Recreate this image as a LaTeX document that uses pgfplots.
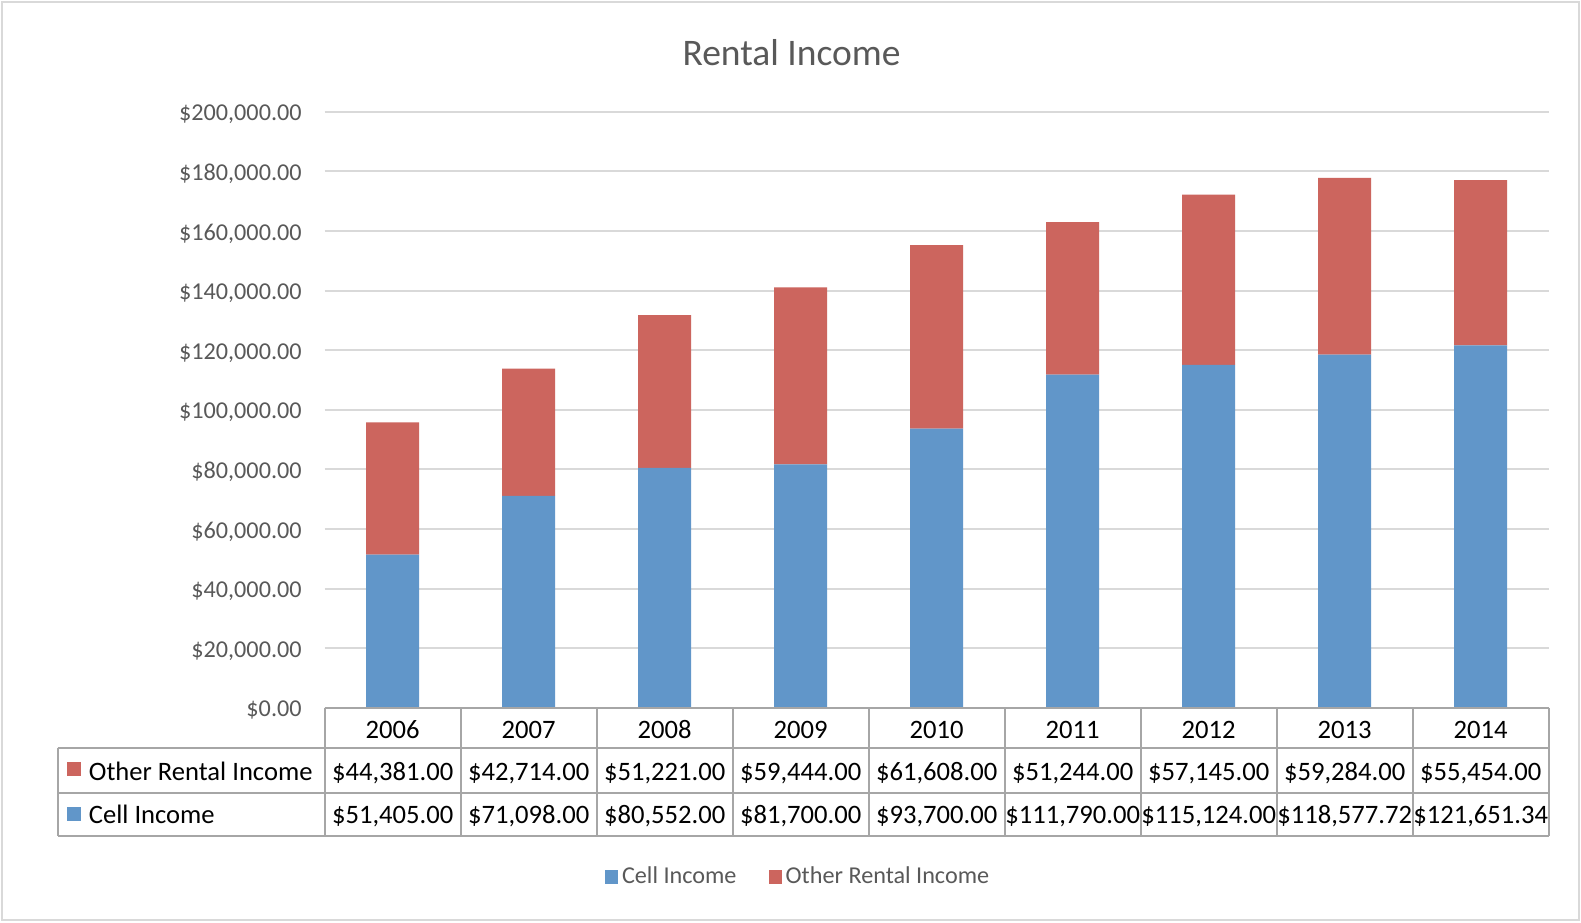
\documentclass[border=0pt]{standalone}
\usepackage{fontspec}
\setmainfont{Carlito}
\usepackage{pgfplots}
\pgfplotsset{compat=1.18}
\definecolor{cellblue}{RGB}{97,150,201}
\definecolor{otherred}{RGB}{204,101,94}
\definecolor{gridgray}{RGB}{217,217,217}
\definecolor{tablegray}{RGB}{166,166,166}
\definecolor{textgray}{RGB}{89,89,89}
\begin{document}
\begin{tikzpicture}[x=0.5pt,y=-0.5pt]
\fill[white] (0,0) rectangle (1581,922);
\draw[gridgray, line width=1pt] (2,2) rectangle (1579,920);
\node[font=\fontsize{18.75}{22}\selectfont, text=textgray] at (791.5,52.4) {Rental Income};
\begin{axis}[
  at={(162.35pt,-353.9pt)}, anchor=south west, scale only axis,
  width=612pt, height=297.95pt,
  ybar stacked, bar width=0.39,
  xmin=-0.5, xmax=8.5, ymin=0, ymax=200000,
  xtick=\empty, scaled y ticks=false,
  ytick={0,20000,40000,60000,80000,100000,120000,140000,160000,180000,200000},
  yticklabels={{\$0.00},{\$20,000.00},{\$40,000.00},{\$60,000.00},{\$80,000.00},{\$100,000.00},{\$120,000.00},{\$140,000.00},{\$160,000.00},{\$180,000.00},{\$200,000.00}},
  ymajorgrids, grid style={gridgray, line width=1pt},
  axis line style={draw=none}, major tick length=0pt,
  yticklabel style={font=\fontsize{12.1}{14}\selectfont, text=textgray, xshift=-8pt, yshift=-1.3pt},
  clip=false,
  legend columns=2,
  legend style={at={(0.3875,-0.2840)}, anchor=center, draw=none, fill=none,
    font=\fontsize{12.1}{14}\selectfont, text=textgray,
    /tikz/every even column/.append style={column sep=14pt}},
  legend image code/.code={\fill[#1] (-0.8pt,-3.3pt) rectangle (5.8pt,3.3pt);},
]
\addplot+[fill=cellblue, draw=none] coordinates {(0,51405) (1,71098) (2,80552) (3,81700) (4,93700) (5,111790) (6,115124) (7,118577.72) (8,121651.34)};
\addlegendentry{Cell Income}
\addplot+[fill=otherred, draw=none] coordinates {(0,44381) (1,42714) (2,51221) (3,59444) (4,61608) (5,51244) (6,57145) (7,59284) (8,55454)};
\addlegendentry{Other Rental Income}
\end{axis}
% data table
\draw[tablegray, line width=1pt] (324.7,707.8) -- (1548.8,707.8);
\foreach \k in {0,...,9} {\draw[tablegray, line width=1pt] ({324.7+136*\k},707.8) -- ({324.7+136*\k},835.9);}
\foreach \yy in {748.2,792.5,835.9} {\draw[tablegray, line width=1pt] (57.5,\yy) -- (1548.8,\yy);}
\draw[tablegray, line width=1pt] (57.5,748.2) -- (57.5,835.9);
\foreach \t [count=\i from 0] in {2006,2007,2008,2009,2010,2011,2012,2013,2014}
  {\node[font=\fontsize{13.3}{15}\selectfont, anchor=base, inner sep=0pt] at ({392.7+136*\i},738.5) {\t};}
\foreach \t [count=\i from 0] in {{\$44,381.00},{\$42,714.00},{\$51,221.00},{\$59,444.00},{\$61,608.00},{\$51,244.00},{\$57,145.00},{\$59,284.00},{\$55,454.00}}
  {\node[font=\fontsize{13.3}{15}\selectfont, anchor=base, inner sep=0pt] at ({392.7+136*\i},780) {\t};}
\foreach \t [count=\i from 0] in {{\$51,405.00},{\$71,098.00},{\$80,552.00},{\$81,700.00},{\$93,700.00},{\$111,790.00},{\$115,124.00},{\$118,577.72},{\$121,651.34}}
  {\node[font=\fontsize{13.3}{15}\selectfont, anchor=base, inner sep=0pt] at ({392.7+136*\i},823.5) {\t};}
\fill[otherred] (66.5,762) rectangle (80.7,776);
\fill[cellblue] (66.5,806.6) rectangle (80.7,820.8);
\node[font=\fontsize{13.3}{15}\selectfont, anchor=base west, inner sep=0pt] at (88.5,780) {Other Rental Income};
\node[font=\fontsize{13.3}{15}\selectfont, anchor=base west, inner sep=0pt] at (88.5,823.5) {Cell Income};
\pgfresetboundingbox
\path[use as bounding box] (0,0) rectangle (1581,922);
\end{tikzpicture}
\end{document}
